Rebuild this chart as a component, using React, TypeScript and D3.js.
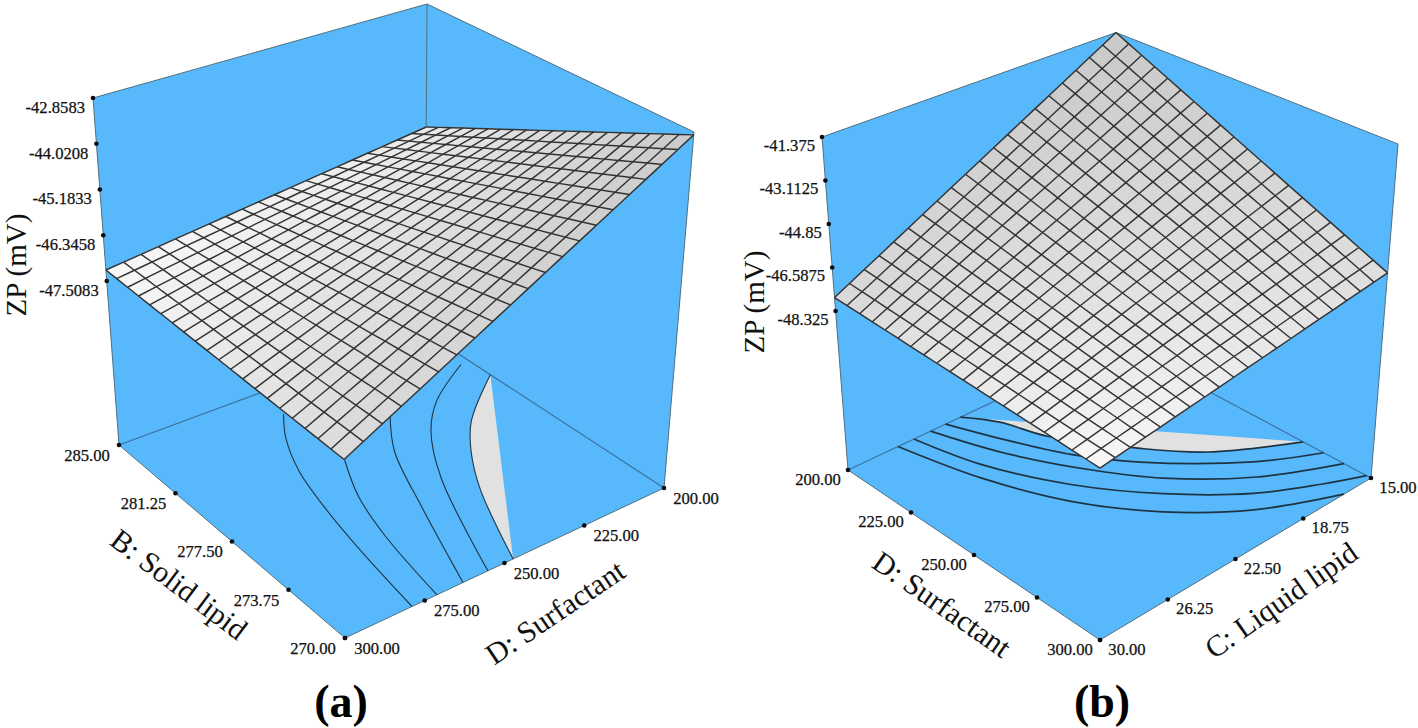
import React from "react";
import * as d3 from "d3";

type P = [number, number];

// ---------- DATA ----------
const zTicksA = [-42.8583, -44.0208, -45.1833, -46.3458, -47.5083];
const bTicksA = [285, 281.25, 277.5, 273.75, 270];
const dTicksA = [300, 275, 250, 225, 200];
// surface corner ZP values
const surfaceA = { x0y0: -47.555, x1y0: -42.93, x1y1: -46.165, x0y1: -47.229 };
// contours on the floor, [D: Surfactant, B: Solid lipid]
const contoursA: P[][] = [
  [[254.8, 283.3], [261.1, 281.9], [267.3, 279.8], [271.7, 277.2], [275.5, 274.0], [279, 270]],
  [[254.6, 279.4], [261.6, 277.1], [266.5, 274.4], [271.2, 270]],
  [[232.4, 280.9], [242, 278.7], [251.4, 275.1], [263, 270]],
  [[202.8, 282.2], [218.9, 280.6], [228.8, 279], [240, 276.1], [255.2, 270]],
];
const lensA: P[] = [[200, 280.9], [217.9, 278.6], [226.5, 276.9], [235.1, 274.6], [247.3, 270]];

const zTicksB = [-41.375, -43.1125, -44.85, -46.5875, -48.325];
const dTicksB = [200, 225, 250, 275, 300];
const cTicksB = [30, 26.25, 22.5, 18.75, 15];
const surfaceB = { x0y0: -48.36, x1y0: -46.51, x1y1: -41.375, x0y1: -47.79 };
// contours on the floor, [C: Liquid lipid, D: Surfactant]
const contoursB: P[][] = [
  [[24.58, 200], [23.52, 215.8], [22.22, 233.3], [20.59, 248.5], [17.36, 270.4], [15, 281.3]],
  [[25.41, 200], [24.2, 220.5], [22.32, 243.1], [20.71, 258.5], [18.12, 275.8], [15, 289.3]],
  [[26.34, 200], [25.47, 220.7], [23.69, 243.9], [21.47, 263.9], [18.91, 281.4], [16.62, 291.9], [15, 298.3]],
  [[27.22, 200], [26.13, 225.4], [24.5, 249.7], [22.34, 270.1], [19.7, 287.1], [16.5, 300]],
];
const lensB: P[] = [[23.76, 200], [22.78, 208.7], [22.04, 222.2], [19.95, 243.2], [18.14, 257.9], [15, 273.2]];

const fmt2 = (v: number) => v.toFixed(2);

// ---------- LAYOUT ----------
const BLUE = "#57b8fb";
const FONT = "'Liberation Serif', 'Times New Roman', serif";
const CELLS = 20;

type Quad = { f: P; r: P; b: P; l: P };
interface Cube {
  floor: Quad;
  top: Quad;
}

function bilin(q: Quad, u: number, v: number): P {
  // u: front → right, v: front → left
  const a = (1 - u) * (1 - v), b = u * (1 - v), c = u * v, d = (1 - u) * v;
  return [
    a * q.f[0] + b * q.r[0] + c * q.b[0] + d * q.l[0],
    a * q.f[1] + b * q.r[1] + c * q.b[1] + d * q.l[1],
  ];
}

const lerp = (a: P, b: P, t: number): P => [a[0] + (b[0] - a[0]) * t, a[1] + (b[1] - a[1]) * t];

interface PanelProps {
  cube: Cube;
  zDomain: [number, number];
  zTicks: number[];
  zFormat: (v: number) => string;
  surface: { x0y0: number; x1y0: number; x1y1: number; x0y1: number };
  uDomain: [number, number];
  vDomain: [number, number];
  uTicks: number[];
  vTicks: number[];
  uFmt: (v: number) => string;
  vFmt: (v: number) => string;
  contours: P[][];
  lens: P[];
  colors: { f: string; r: string; b: string; l: string };
  uLabelOffset: P;
  vLabelOffset: P;
  zDx: number;
  zDy: number;
  contourWidth: number;
  meshWarp: number;
  titles: { text: string; x: number; y: number; angle: number; size: number }[];
  showBackEdge: boolean;
}

function Panel(p: PanelProps) {
  const { floor, top } = p.cube;
  const uS = d3.scaleLinear().domain(p.uDomain).range([0, 1]);
  const vS = d3.scaleLinear().domain(p.vDomain).range([0, 1]);
  const wS = d3.scaleLinear().domain(p.zDomain).range([0, 1]);
  const at = (u: number, v: number, zp: number): P =>
    lerp(bilin(floor, u, v), bilin(top, u, v), wS(zp));
  const floorAt = (a: number, b: number) => bilin(floor, uS(a), vS(b));

  const surfQuad: Quad = {
    f: at(0, 0, p.surface.x0y0),
    r: at(1, 0, p.surface.x1y0),
    b: at(1, 1, p.surface.x1y1),
    l: at(0, 1, p.surface.x0y1),
  };
  const warp = (s: number) => s / (s + p.meshWarp * (1 - s));
  const H = (u: number, v: number): P => bilin(surfQuad, warp(u), warp(v));

  const mix = (u: number, v: number) => {
    const a = d3.interpolateRgb(p.colors.f, p.colors.r)(u);
    const b = d3.interpolateRgb(p.colors.l, p.colors.b)(u);
    return d3.interpolateRgb(a, b)(v);
  };
  const idx = d3.range(CELLS);
  const t = (i: number) => i / CELLS;
  const poly = d3.line<P>().curve(d3.curveLinear);
  const smooth = d3.line<P>().curve(d3.curveCatmullRom.alpha(0.5));

  const hex: P[] = [top.l, top.b, top.r, floor.r, floor.f, floor.l];
  const edge = "#50707f";
  const inner = "#37719c";

  const zDots = p.zTicks.map((z) => lerp(floor.l, top.l, wS(z)));
  const uDots = p.uTicks.map((v) => bilin(floor, uS(v), 0));
  const vDots = p.vTicks.map((v) => bilin(floor, 0, vS(v)));

  return (
    <g>
      <path d={poly(hex)! + "Z"} fill={BLUE} stroke={edge} strokeWidth={1} />
      {p.showBackEdge && (
        <line x1={top.b[0]} y1={top.b[1]} x2={floor.b[0]} y2={floor.b[1]} stroke={edge} strokeWidth={1} />
      )}
      <line x1={floor.l[0]} y1={floor.l[1]} x2={floor.b[0]} y2={floor.b[1]} stroke={inner} strokeWidth={1.1} />
      <line x1={floor.r[0]} y1={floor.r[1]} x2={floor.b[0]} y2={floor.b[1]} stroke={inner} strokeWidth={1.1} />

      {/* floor contours */}
      <path
        d={smooth(p.lens.map((d) => floorAt(d[0], d[1])))! + "Z"}
        fill="#e1e1e1"
        stroke="none"
      />
      <path
        d={smooth(p.lens.map((d) => floorAt(d[0], d[1])))!}
        fill="none"
        stroke="#1f3442"
        strokeWidth={p.contourWidth}
      />
      {p.contours.map((c, i) => (
        <path
          key={i}
          d={smooth(c.map((d) => floorAt(d[0], d[1])))!}
          fill="none"
          stroke="#1f3442"
          strokeWidth={p.contourWidth}
        />
      ))}

      {/* surface */}
      {idx.map((i) =>
        idx.map((j) => {
          const c = mix(t(i) + 0.5 / CELLS, t(j) + 0.5 / CELLS);
          return (
            <path
              key={i + "-" + j}
              d={poly([H(t(i), t(j)), H(t(i + 1), t(j)), H(t(i + 1), t(j + 1)), H(t(i), t(j + 1))])! + "Z"}
              fill={c}
              stroke={c}
              strokeWidth={0.4}
            />
          );
        })
      )}
      {d3.range(CELLS + 1).map((i) => (
        <path
          key={"u" + i}
          d={poly(d3.range(CELLS + 1).map((j) => H(t(i), t(j))))!}
          fill="none"
          stroke="#333"
          strokeWidth={1.45}
        />
      ))}
      {d3.range(CELLS + 1).map((j) => (
        <path
          key={"v" + j}
          d={poly(d3.range(CELLS + 1).map((i) => H(t(i), t(j))))!}
          fill="none"
          stroke="#333"
          strokeWidth={1.45}
        />
      ))}

      {/* ticks */}
      {[...zDots, ...uDots, ...vDots].map((d, i) => (
        <circle key={"d" + i} cx={d[0]} cy={d[1]} r={2.3} fill="#0c0c0c" />
      ))}
      <g fontFamily={FONT} fontSize={16.6} fill="#111" stroke="#111" strokeWidth={0.25}>
        {zDots.map((d, i) => (
          <text key={i} x={d[0] + p.zDx} y={d[1] + p.zDy} textAnchor="end" dominantBaseline="middle">
            {p.zFormat(p.zTicks[i])}
          </text>
        ))}
        {uDots.map((d, i) => (
          <text
            key={i}
            x={d[0] + p.uLabelOffset[0]}
            y={d[1] + p.uLabelOffset[1]}
            textAnchor="middle"
            dominantBaseline="middle"
          >
            {p.uFmt(p.uTicks[i])}
          </text>
        ))}
        {vDots.map((d, i) => (
          <text
            key={i}
            x={d[0] + p.vLabelOffset[0]}
            y={d[1] + p.vLabelOffset[1]}
            textAnchor="middle"
            dominantBaseline="middle"
          >
            {p.vFmt(p.vTicks[i])}
          </text>
        ))}
      </g>
      {p.titles.map((tt, i) => (
        <text
          key={i}
          transform={`translate(${tt.x},${tt.y}) rotate(${tt.angle})`}
          fontFamily={FONT}
          fontSize={tt.size}
          textAnchor="middle"
          dominantBaseline="middle"
          fill="#111"
        >
          {tt.text}
        </text>
      ))}
    </g>
  );
}

const cubeA: Cube = {
  floor: { f: [345, 638], r: [664, 488], b: [425, 332], l: [119, 445] },
  top: { f: [343, 256], r: [694, 132], b: [427, 4], l: [93, 98] },
};
const cubeB: Cube = {
  floor: { f: [1100, 640], r: [1371, 478], b: [1118, 343], l: [848, 470] },
  top: { f: [1100, 278], r: [1398, 144], b: [1116, 32.5], l: [822, 137] },
};

export default function App() {
  return (
    <svg
      width={1418}
      height={728}
      viewBox="0 0 1418 728"
      style={{ position: "absolute", left: 0, top: 0, display: "block", background: "#fff" }}
    >
      <Panel
        cube={cubeA}
        zDomain={[-51.675, -42.8583]}
        zTicks={zTicksA}
        zFormat={(v) => v.toFixed(4)}
        surface={surfaceA}
        uDomain={[300, 200]}
        vDomain={[270, 285]}
        uTicks={dTicksA}
        vTicks={bTicksA}
        uFmt={fmt2}
        vFmt={fmt2}
        contours={contoursA}
        lens={lensA}
        colors={{ f: "#dadada", r: "#cbcbcb", b: "#ebebeb", l: "#f8f8f8" }}
        uLabelOffset={[32, 12]}
        vLabelOffset={[-32, 12]}
        zDx={-8}
        zDy={11}
        contourWidth={1.1}
        meshWarp={0.9}
        showBackEdge
        titles={[
          { text: "ZP (mV)", x: 19.5, y: 265, angle: -90, size: 29 },
          { text: "B: Solid lipid", x: 177, y: 587, angle: 37, size: 30 },
          { text: "D: Surfactant", x: 557, y: 615, angle: -34, size: 30 },
        ]}
      />
      <Panel
        cube={cubeB}
        zDomain={[-54.68, -41.375]}
        zTicks={zTicksB}
        zFormat={(v) => String(v)}
        surface={surfaceB}
        uDomain={[30, 15]}
        vDomain={[300, 200]}
        uTicks={cTicksB}
        vTicks={dTicksB}
        uFmt={fmt2}
        vFmt={fmt2}
        contours={contoursB}
        lens={lensB}
        colors={{ f: "#f8f8f8", r: "#dedede", b: "#c9c9c9", l: "#d8d8d8" }}
        uLabelOffset={[27, 11]}
        vLabelOffset={[-30, 11]}
        zDx={-7}
        zDy={10}
        contourWidth={1.7}
        meshWarp={0.94}
        showBackEdge={false}
        titles={[
          { text: "ZP (mV)", x: 757.5, y: 302, angle: -90, size: 29 },
          { text: "D: Surfactant", x: 940, y: 607, angle: 35, size: 30 },
          { text: "C: Liquid lipid", x: 1283, y: 603, angle: -35, size: 30 },
        ]}
      />
      <g fontFamily={FONT} fontSize={46} fontWeight="bold" textAnchor="middle" fill="#000">
        <text x={341} y={717}>(a)</text>
        <text x={1102} y={717}>(b)</text>
      </g>
    </svg>
  );
}
